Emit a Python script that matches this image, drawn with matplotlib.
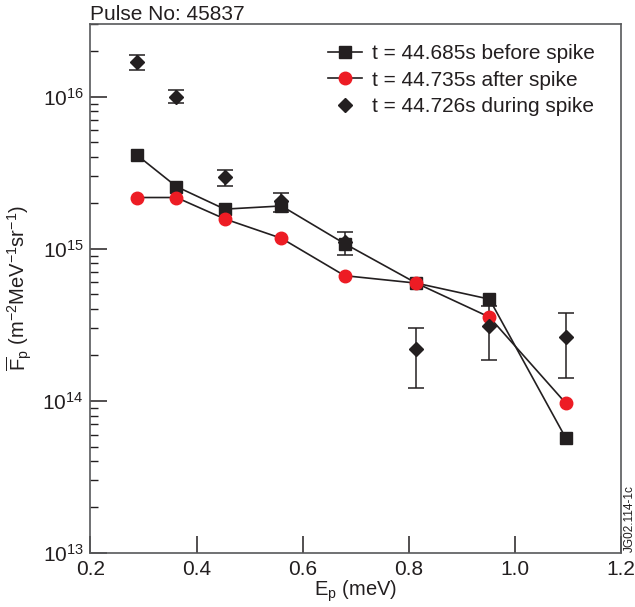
import matplotlib
matplotlib.use("Agg")
import matplotlib.pyplot as plt
from matplotlib.ticker import LogLocator, FixedLocator, NullLocator, LogFormatterMathtext

plt.rcParams['font.family'] = ['Liberation Sans', 'DejaVu Sans']
plt.rcParams['mathtext.fontset'] = 'custom'
plt.rcParams['mathtext.rm'] = 'Liberation Sans'
plt.rcParams['mathtext.it'] = 'Liberation Sans'
plt.rcParams['mathtext.bf'] = 'Liberation Sans:bold'

# Data
energy = [0.287, 0.362, 0.453, 0.560, 0.679, 0.814, 0.952, 1.096]
before_spike = [4.14e15, 2.56e15, 1.82e15, 1.91e15, 1.08e15, 5.94e14, 4.66e14, 5.68e13]
after_spike = [2.17e15, 2.17e15, 1.57e15, 1.17e15, 6.65e14, 5.94e14, 3.55e14, 9.64e13]
during_spike = [1.68e16, 9.95e15, 2.98e15, 2.07e15, 1.11e15, 2.18e14, 3.11e14, 2.64e14]
during_upper = [1.88e16, 1.107e16, 3.31e15, 2.34e15, 1.28e15, 3.03e14, 4.21e14, 3.77e14]
during_lower = [1.50e16, 9.06e15, 2.58e15, 1.75e15, 9.10e14, 1.21e14, 1.86e14, 1.42e14]

labels = ["t = 44.685s before spike", "t = 44.735s after spike", "t = 44.726s during spike"]
x_ticks = [0.2, 0.4, 0.6, 0.8, 1.0, 1.2]

dark = '#231f20'
red = '#ed1c24'
spine_col = '#58595b'

fig = plt.figure(figsize=(6.35, 6.07), dpi=100)
ax = fig.add_axes([0.1425, 0.089, 0.8355, 0.8715])

err_lo = [d - l for d, l in zip(during_spike, during_lower)]
err_hi = [u - d for d, u in zip(during_spike, during_upper)]
ax.errorbar(energy, during_spike, yerr=[err_lo, err_hi], fmt='none',
            ecolor=dark, elinewidth=1.1, capsize=6, capthick=1.1, zorder=2)

ax.plot(energy, before_spike, color=dark, lw=1.2, marker='s', ms=8,
        mfc=dark, mec=dark, label=labels[0], zorder=3)
ax.plot(energy, after_spike, color=dark, lw=1.2, marker='o', ms=9,
        mfc=red, mec=red, label=labels[1], zorder=3)
ax.plot(energy, during_spike, linestyle='none', marker='D', ms=7.5,
        mfc=dark, mec=dark, label=labels[2], zorder=4)

ax.set_yscale('log')
ax.set_xlim(0.2, 1.2)
ax.set_ylim(1e13, 3.0e16)
ax.xaxis.set_major_locator(FixedLocator(x_ticks))
ax.set_xticklabels([f"{v:.1f}" for v in x_ticks])
ax.xaxis.set_minor_locator(NullLocator())
ax.yaxis.set_major_locator(LogLocator(base=10, numticks=10))
ax.yaxis.set_minor_locator(LogLocator(base=10, subs=range(2, 10), numticks=20))
ax.yaxis.set_major_formatter(LogFormatterMathtext())

ax.tick_params(axis='both', which='major', direction='in', length=12, width=1.1,
               color=dark, labelsize=15, labelcolor=dark, top=False, right=False, pad=5)
ax.tick_params(axis='y', which='minor', direction='in', length=6, width=1.0, color=dark,
               right=False)
for s in ax.spines.values():
    s.set_color(spine_col)
    s.set_linewidth(1.2)

ax.set_xlabel(r'E$_\mathrm{p}$ (meV)', fontsize=14.5, color=dark, labelpad=0)
ax.set_ylabel(r'$\overline{\mathrm{F}}_\mathrm{p}$ (m$^{-2}$MeV$^{-1}$sr$^{-1}$)',
              fontsize=14.5, color=dark, labelpad=6)
ax.set_title('Pulse No: 45837', loc='left', fontsize=15, color=dark, pad=2)

leg = ax.legend(loc='upper right', frameon=False, fontsize=15, handlelength=1.65,
                handletextpad=0.5, labelspacing=0.37, borderaxespad=0.3,
                bbox_to_anchor=(0.979, 0.99))
for t in leg.get_texts():
    t.set_color(dark)

fig.text(0.992, 0.09, 'JG02.114-1c', rotation=90, fontsize=8.5, color=dark,
         ha='center', va='bottom')

fig.savefig('out.png', dpi=100)
